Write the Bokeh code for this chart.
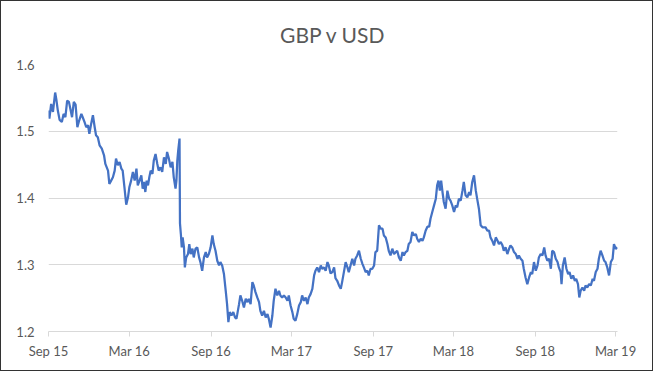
import pandas as pd
from bokeh.plotting import figure
from bokeh.layouts import column
from bokeh.models import Range1d, FixedTicker, NumeralTickFormatter, CustomJSTickFormatter
from bokeh.embed import file_html
from bokeh.resources import INLINE

title_text = "GBP v USD"
start_date = "2015-09-01"
end_date = "2019-03-05"

# days since start_date
days_since_start = [
    0, 2, 6, 10, 15, 18, 21, 25, 30, 34, 38, 42, 46, 50, 53, 57, 61, 65, 69, 74,
    77, 81, 85, 89, 92, 96, 100, 104, 107, 111, 115, 120, 125, 128, 134, 137, 141, 145, 149, 152,
    156, 160, 164, 167, 171, 175, 179, 182, 186, 190, 194, 198, 201, 205, 209, 212,
    215, 218, 221, 224, 227, 230, 234, 237, 241, 245, 248, 252, 256, 260, 264, 267, 271, 275, 279, 282,
    286, 288, 290, 292, 295, 296, 298, 300, 302, 305, 307, 310, 314, 317, 320, 324, 327, 331, 335, 339,
    342, 346, 350, 354, 357, 361, 365, 369, 372, 376, 380, 384, 387, 391, 395, 399, 402, 405, 408, 412,
    416, 420,
    423, 425, 429, 432, 436, 440, 444, 448, 451, 455, 459, 462, 466, 470, 474, 477, 481, 485, 489, 493,
    496, 500, 504, 507, 511, 515, 519, 522, 526, 530, 534, 538, 541, 545, 549, 552, 556, 560, 564, 568,
    571, 575, 579, 583, 586, 590, 594, 598, 601, 605, 609, 613, 616, 620, 624, 628, 631,
    635, 639, 643, 646, 650, 654, 658, 661, 665, 669, 673, 676, 680, 684, 688, 691, 695, 699, 703, 707,
    710, 714, 718, 721, 725, 729, 733, 736, 740, 744, 748, 752, 755, 759, 763, 766, 770, 774, 778, 782,
    785, 789, 793, 797, 800, 804, 808, 811, 815, 819, 823, 827, 830, 834, 838, 842, 845, 849, 853, 857,
    860, 864, 868, 872, 875, 878, 881, 884, 887, 890, 894, 898, 902, 905, 909, 913, 917, 920, 924, 928,
    932, 935, 939, 943, 947, 950, 954, 958, 962, 965, 969, 973, 977, 980, 984, 988, 992, 995, 999, 1003,
    1007, 1011, 1014, 1018, 1022, 1025, 1029, 1033, 1037, 1040, 1044, 1048, 1052, 1056, 1059,
    1063, 1067, 1070, 1074, 1078, 1082, 1086, 1089, 1093, 1097, 1101, 1104, 1108, 1112, 1116, 1119, 1123, 1127, 1131, 1134,
    1138, 1142, 1146, 1149, 1153, 1155, 1158, 1162, 1166, 1170, 1173, 1177, 1181, 1185, 1188, 1192, 1195, 1198, 1202, 1206,
    1209, 1213, 1217, 1221, 1225, 1228, 1232, 1236, 1239, 1243, 1247, 1251, 1254, 1258, 1262, 1266, 1270, 1273, 1277, 1281,
]

gbp_usd = [
    1.531, 1.519, 1.541, 1.529, 1.558, 1.546, 1.531, 1.517, 1.514, 1.526, 1.521, 1.546, 1.544, 1.531, 1.521, 1.544, 1.540, 1.506, 1.516, 1.526,
    1.521, 1.514, 1.506, 1.509, 1.496, 1.511, 1.524, 1.506, 1.494, 1.491, 1.479, 1.474, 1.464, 1.451, 1.441, 1.421, 1.426, 1.431, 1.441, 1.459,
    1.449, 1.454, 1.444, 1.441, 1.416, 1.390, 1.401, 1.416, 1.426, 1.439, 1.426, 1.444, 1.419, 1.426, 1.434, 1.414,
    1.424, 1.409, 1.426, 1.419, 1.431, 1.441, 1.436, 1.456, 1.466, 1.451, 1.441, 1.446, 1.439, 1.461, 1.451, 1.469, 1.459, 1.446, 1.454, 1.431,
    1.414, 1.426, 1.456, 1.471, 1.489, 1.362, 1.346, 1.326, 1.341, 1.326, 1.296, 1.311, 1.316, 1.331, 1.316, 1.324, 1.311, 1.324, 1.326, 1.311,
    1.304, 1.291, 1.311, 1.319, 1.311, 1.316, 1.326, 1.344, 1.331, 1.321, 1.306, 1.299, 1.304, 1.299, 1.286, 1.261, 1.241, 1.214, 1.229, 1.224,
    1.229, 1.221,
    1.219, 1.226, 1.241, 1.254, 1.246, 1.236, 1.249, 1.244, 1.249, 1.241, 1.274, 1.269, 1.259, 1.251, 1.244, 1.231, 1.224, 1.231, 1.221, 1.226,
    1.219, 1.206, 1.224, 1.246, 1.264, 1.254, 1.261, 1.254, 1.251, 1.254, 1.251, 1.246, 1.254, 1.239, 1.229, 1.219, 1.216, 1.226, 1.239, 1.244,
    1.254, 1.246, 1.251, 1.241, 1.251, 1.256, 1.264, 1.284, 1.291, 1.296, 1.289, 1.299, 1.294, 1.296, 1.291, 1.304, 1.299,
    1.287, 1.289, 1.296, 1.280, 1.276, 1.269, 1.264, 1.274, 1.289, 1.304, 1.296, 1.289, 1.299, 1.309, 1.299, 1.309, 1.314, 1.321, 1.309, 1.301,
    1.296, 1.289, 1.291, 1.284, 1.294, 1.294, 1.299, 1.319, 1.321, 1.359, 1.354, 1.354, 1.344, 1.341, 1.331, 1.321, 1.314, 1.324, 1.316, 1.319,
    1.321, 1.311, 1.306, 1.319, 1.314, 1.319, 1.321, 1.331, 1.334, 1.349, 1.344, 1.346, 1.339, 1.334, 1.339, 1.336, 1.341, 1.351, 1.357, 1.357,
    1.369, 1.379, 1.389, 1.399, 1.419, 1.426, 1.411, 1.426, 1.409, 1.394, 1.384, 1.411, 1.399, 1.396, 1.389, 1.379, 1.389, 1.386, 1.399, 1.396,
    1.411, 1.424, 1.404, 1.401, 1.409, 1.404, 1.424, 1.434, 1.411, 1.399, 1.384, 1.359, 1.356, 1.356, 1.356, 1.351, 1.351, 1.341, 1.336, 1.329,
    1.341, 1.336, 1.331, 1.334, 1.329, 1.321, 1.326, 1.316, 1.324, 1.329, 1.326, 1.319, 1.316, 1.309, 1.314,
    1.309, 1.306, 1.294, 1.281, 1.271, 1.281, 1.289, 1.286, 1.304, 1.291, 1.299, 1.311, 1.316, 1.314, 1.326, 1.314, 1.306, 1.309, 1.294, 1.321,
    1.319, 1.309, 1.304, 1.296, 1.289, 1.271, 1.299, 1.311, 1.294, 1.286, 1.289, 1.279, 1.284, 1.276, 1.279, 1.271, 1.251, 1.261, 1.266, 1.261,
    1.269, 1.266, 1.271, 1.269, 1.279, 1.276, 1.289, 1.294, 1.309, 1.321, 1.314, 1.306, 1.304, 1.296, 1.284, 1.304, 1.309, 1.331, 1.324, 1.326,
]

tick_dates = ["2015-09-01", "2016-03-01", "2016-09-01", "2017-03-01",
              "2017-09-01", "2018-03-01", "2018-09-01", "2019-03-01"]
tick_labels = ["Sep 15", "Mar 16", "Sep 16", "Mar 17", "Sep 17", "Mar 18", "Sep 18", "Mar 19"]
y_ticks = [1.2, 1.3, 1.4, 1.5, 1.6]
y_min, y_max = 1.2, 1.6

assert len(days_since_start) == len(gbp_usd)

dates = pd.to_datetime(start_date) + pd.to_timedelta(days_since_start, unit="D")
tick_ms = [float(pd.Timestamp(d).value // 10**6) for d in tick_dates]

TEXT = "#595959"
GRID = "#d9d9d9"
FONT = "Lato"

p = figure(width=651, height=369, x_axis_type="datetime",
           x_range=Range1d(pd.Timestamp(start_date), pd.Timestamp(end_date)),
           y_range=Range1d(y_min, y_max),
           output_backend="svg", toolbar_location=None,
           min_border_left=47, min_border_right=35, min_border_top=63, min_border_bottom=39,
           background_fill_color="white", border_fill_color="white")
p.outline_line_color = None

p.title.text = title_text
p.title.align = "center"
p.title.text_font = FONT
p.title.text_font_size = "21px"
p.title.text_font_style = "normal"
p.title.text_color = TEXT
p.title.standoff = 35
p.title.offset = -6

p.line(dates, gbp_usd, line_color="#4472C4", line_width=2.25)

xa = p.xaxis[0]
xa.ticker = FixedTicker(ticks=tick_ms)
xa.formatter = CustomJSTickFormatter(args=dict(tick_vals=tick_ms, tick_names=tick_labels),
                                     code="const i = tick_vals.indexOf(tick); return i >= 0 ? tick_names[i] : '';")
xa.axis_line_color = GRID
xa.major_tick_line_color = GRID
xa.major_tick_out = 5
xa.major_tick_in = 0
xa.minor_tick_line_color = None
xa.major_label_standoff = 6
xa.major_label_text_font = FONT
xa.major_label_text_font_size = "13px"
xa.major_label_text_color = TEXT

ya = p.yaxis[0]
ya.ticker = FixedTicker(ticks=y_ticks)
ya.formatter = NumeralTickFormatter(format="0.0")
ya.axis_line_color = None
ya.major_tick_line_color = None
ya.minor_tick_line_color = None
ya.major_tick_out = 0
ya.major_tick_in = 0
ya.major_label_standoff = 14
ya.major_label_text_font = FONT
ya.major_label_text_font_size = "13px"
ya.major_label_text_color = TEXT

p.xgrid.visible = False
p.ygrid.ticker = FixedTicker(ticks=y_ticks)
p.ygrid.grid_line_color = GRID
p.ygrid.grid_line_width = 1

layout = column(p, styles={"border": "1px solid #333333"})

open("out.html", "w").write(file_html(layout, INLINE))
